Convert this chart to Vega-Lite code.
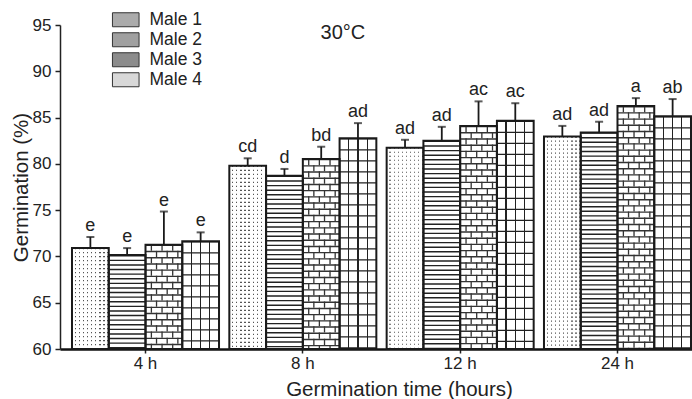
{
  "$schema": "https://vega.github.io/schema/vega-lite/v6.json",
  "width": 632,
  "height": 324,
  "autosize": {"type": "none"},
  "padding": {"left": 60, "top": 25, "right": 0, "bottom": 50},
  "config": {"font": "Liberation Sans", "view": {"stroke": null}},
  "data": {"values": [
    {"time": "4 h", "male": "Male 1", "mean": 70.9, "upper": 72.1, "letters": "e"},
    {"time": "4 h", "male": "Male 2", "mean": 70.15, "upper": 70.9, "letters": "e"},
    {"time": "4 h", "male": "Male 3", "mean": 71.27, "upper": 74.85, "letters": "e"},
    {"time": "4 h", "male": "Male 4", "mean": 71.65, "upper": 72.6, "letters": "e"},
    {"time": "8 h", "male": "Male 1", "mean": 79.8, "upper": 80.6, "letters": "cd"},
    {"time": "8 h", "male": "Male 2", "mean": 78.72, "upper": 79.45, "letters": "d"},
    {"time": "8 h", "male": "Male 3", "mean": 80.53, "upper": 81.85, "letters": "bd"},
    {"time": "8 h", "male": "Male 4", "mean": 82.76, "upper": 84.4, "letters": "ad"},
    {"time": "12 h", "male": "Male 1", "mean": 81.75, "upper": 82.6, "letters": "ad"},
    {"time": "12 h", "male": "Male 2", "mean": 82.5, "upper": 84.0, "letters": "ad"},
    {"time": "12 h", "male": "Male 3", "mean": 84.1, "upper": 86.75, "letters": "ac"},
    {"time": "12 h", "male": "Male 4", "mean": 84.65, "upper": 86.55, "letters": "ac"},
    {"time": "24 h", "male": "Male 1", "mean": 82.95, "upper": 84.1, "letters": "ad"},
    {"time": "24 h", "male": "Male 2", "mean": 83.4, "upper": 84.55, "letters": "ad"},
    {"time": "24 h", "male": "Male 3", "mean": 86.25, "upper": 87.1, "letters": "a"},
    {"time": "24 h", "male": "Male 4", "mean": 85.15, "upper": 87.0, "letters": "ab"}
  ]},
  "encoding": {
    "x": {
      "field": "time", "type": "nominal", "sort": ["4 h", "8 h", "12 h", "24 h"],
      "scale": {"paddingInner": 0.0655, "paddingOuter": 0.0413, "align": 0.923},
      "axis": {
        "title": "Germination time (hours)", "labelAngle": 0, "labelFontSize": 17, "labelColor": "#222",
        "labelPadding": 2, "tickSize": 4, "tickColor": "#222", "tickWidth": 1.5,
        "domainColor": "#111", "domainWidth": 2.5, "titleFontSize": 20.5, "titleFontWeight": "normal",
        "titleColor": "#222", "titlePadding": 8, "titleX": 339
      }
    },
    "y": {
      "field": "mean", "type": "quantitative",
      "scale": {"domain": [60, 95], "nice": false, "zero": false},
      "axis": {
        "title": "Germination (%)", "values": [60, 65, 70, 75, 80, 85, 90, 95], "labelFontSize": 17,
        "labelColor": "#222", "labelPadding": 4, "tickSize": 5, "tickColor": "#222", "tickWidth": 1.5,
        "domainColor": "#222", "domainWidth": 1.5, "grid": false, "titleFontSize": 20.5,
        "titleFontWeight": "normal", "titleColor": "#222", "titlePadding": 1
      }
    }
  },
  "layer": [
    {
      "mark": {"type": "bar"},
      "encoding": {
        "y2": {"datum": 60},
        "xOffset": {"field": "male", "type": "nominal", "scale": {"paddingInner": 0, "paddingOuter": 0}},
        "fill": {
          "field": "male", "type": "nominal",
          "scale": {"domain": ["Male 1", "Male 2", "Male 3", "Male 4"], "range": ["#ababab", "#a0a0a0", "#8c8c8c", "#d8d8d8"]},
          "legend": {
            "title": null, "orient": "none", "legendX": 57, "legendY": -14, "padding": 0,
            "symbolType": "M-1.9,-1H1.9V1H-1.9Z", "symbolSize": 196, "symbolOpacity": 1,
            "symbolStrokeColor": "#333", "symbolStrokeWidth": 1,
            "labelFontSize": 17.5, "labelColor": "#222", "labelOffset": 15, "rowPadding": 1
          }
        }
      }
    },
    {
      "mark": {"type": "bar", "fill": "white"},
      "encoding": {"xOffset": {"field": "male", "type": "nominal"}, "y2": {"datum": 60}}
    },
    {
      "transform": [{"filter": "datum.male === 'Male 1'"}],
      "mark": {"type": "rule", "strokeWidth": 36, "strokeDash": [1.2, 2.8], "color": "#555"},
      "encoding": {"xOffset": {"field": "male", "type": "nominal"}, "y2": {"datum": 60}}
    },
    {
      "transform": [{"filter": "datum.male === 'Male 1'"}],
      "mark": {"type": "bar", "fill": {"gradient": "linear", "x1": 0, "y1": 0, "x2": 1, "y2": 0, "stops": [
        {"offset": 0, "color": "white"}, {"offset": 0.0756, "color": "white"}, {"offset": 0.0756, "color": "rgba(255,255,255,0)"}, {"offset": 0.1111, "color": "rgba(255,255,255,0)"},
        {"offset": 0.1111, "color": "white"}, {"offset": 0.1867, "color": "white"}, {"offset": 0.1867, "color": "rgba(255,255,255,0)"}, {"offset": 0.2222, "color": "rgba(255,255,255,0)"},
        {"offset": 0.2222, "color": "white"}, {"offset": 0.2978, "color": "white"}, {"offset": 0.2978, "color": "rgba(255,255,255,0)"}, {"offset": 0.3333, "color": "rgba(255,255,255,0)"},
        {"offset": 0.3333, "color": "white"}, {"offset": 0.4089, "color": "white"}, {"offset": 0.4089, "color": "rgba(255,255,255,0)"}, {"offset": 0.4444, "color": "rgba(255,255,255,0)"},
        {"offset": 0.4444, "color": "white"}, {"offset": 0.52, "color": "white"}, {"offset": 0.52, "color": "rgba(255,255,255,0)"}, {"offset": 0.5556, "color": "rgba(255,255,255,0)"},
        {"offset": 0.5556, "color": "white"}, {"offset": 0.6311, "color": "white"}, {"offset": 0.6311, "color": "rgba(255,255,255,0)"}, {"offset": 0.6667, "color": "rgba(255,255,255,0)"},
        {"offset": 0.6667, "color": "white"}, {"offset": 0.7422, "color": "white"}, {"offset": 0.7422, "color": "rgba(255,255,255,0)"}, {"offset": 0.7778, "color": "rgba(255,255,255,0)"},
        {"offset": 0.7778, "color": "white"}, {"offset": 0.8533, "color": "white"}, {"offset": 0.8533, "color": "rgba(255,255,255,0)"}, {"offset": 0.8889, "color": "rgba(255,255,255,0)"},
        {"offset": 0.8889, "color": "white"}, {"offset": 0.9644, "color": "white"}, {"offset": 0.9644, "color": "rgba(255,255,255,0)"}, {"offset": 1, "color": "rgba(255,255,255,0)"}
      ]}},
      "encoding": {"xOffset": {"field": "male", "type": "nominal"}, "y2": {"datum": 60}}
    },
    {
      "transform": [{"filter": "datum.male === 'Male 2'"}],
      "mark": {"type": "rule", "strokeWidth": 36, "strokeDash": [1.4, 3.2], "color": "#222"},
      "encoding": {"xOffset": {"field": "male", "type": "nominal"}, "y2": {"datum": 60}}
    },
    {
      "transform": [{"filter": "datum.male === 'Male 3'"}],
      "mark": {"type": "rule", "strokeWidth": 36, "strokeDash": [1.4, 4.8], "color": "#333"},
      "encoding": {"xOffset": {"field": "male", "type": "nominal"}, "y2": {"datum": 60}}
    },
    {
      "transform": [{"filter": "datum.male === 'Male 3'"}],
      "mark": {"type": "rule", "strokeWidth": 1.3, "strokeDash": [6.2, 6.2], "color": "#333"},
      "encoding": {"x": {"field": "time", "type": "nominal", "sort": ["4 h", "8 h", "12 h", "24 h"], "bandPosition": 0.54, "title": "Germination time (hours)"}, "y2": {"datum": 60}}
    },
    {
      "transform": [{"filter": "datum.male === 'Male 3'"}],
      "mark": {"type": "rule", "strokeWidth": 1.3, "strokeDash": [6.2, 6.2], "color": "#333"},
      "encoding": {"x": {"field": "time", "type": "nominal", "sort": ["4 h", "8 h", "12 h", "24 h"], "bandPosition": 0.6125, "title": "Germination time (hours)"}, "y2": {"datum": 60}}
    },
    {
      "transform": [{"filter": "datum.male === 'Male 3'"}],
      "mark": {"type": "rule", "strokeWidth": 1.3, "strokeDash": [6.2, 6.2], "color": "#333"},
      "encoding": {"x": {"field": "time", "type": "nominal", "sort": ["4 h", "8 h", "12 h", "24 h"], "bandPosition": 0.685, "title": "Germination time (hours)"}, "y2": {"datum": 60}}
    },
    {
      "transform": [{"filter": "datum.male === 'Male 3'"}],
      "mark": {"type": "rule", "strokeWidth": 1.3, "strokeDash": [6.2, 6.2], "strokeDashOffset": 6.2, "color": "#333"},
      "encoding": {"x": {"field": "time", "type": "nominal", "sort": ["4 h", "8 h", "12 h", "24 h"], "bandPosition": 0.575, "title": "Germination time (hours)"}, "y2": {"datum": 60}}
    },
    {
      "transform": [{"filter": "datum.male === 'Male 3'"}],
      "mark": {"type": "rule", "strokeWidth": 1.3, "strokeDash": [6.2, 6.2], "strokeDashOffset": 6.2, "color": "#333"},
      "encoding": {"x": {"field": "time", "type": "nominal", "sort": ["4 h", "8 h", "12 h", "24 h"], "bandPosition": 0.6475, "title": "Germination time (hours)"}, "y2": {"datum": 60}}
    },
    {
      "transform": [{"filter": "datum.male === 'Male 3'"}],
      "mark": {"type": "rule", "strokeWidth": 1.3, "strokeDash": [6.2, 6.2], "strokeDashOffset": 6.2, "color": "#333"},
      "encoding": {"x": {"field": "time", "type": "nominal", "sort": ["4 h", "8 h", "12 h", "24 h"], "bandPosition": 0.72, "title": "Germination time (hours)"}, "y2": {"datum": 60}}
    },
    {
      "transform": [{"filter": "datum.male === 'Male 4'"}],
      "mark": {"type": "rule", "strokeWidth": 36, "strokeDash": [1.3, 9.7], "color": "#222"},
      "encoding": {"xOffset": {"field": "male", "type": "nominal"}, "y2": {"datum": 60}}
    },
    {
      "transform": [{"filter": "datum.male === 'Male 4'"}],
      "mark": {"type": "bar", "fill": {"gradient": "linear", "x1": 0, "y1": 0, "x2": 1, "y2": 0, "stops": [
        {"offset": 0, "color": "rgba(0,0,0,0)"}, {"offset": 0.2325, "color": "rgba(0,0,0,0)"}, {"offset": 0.2325, "color": "#222"}, {"offset": 0.2675, "color": "#222"},
        {"offset": 0.2675, "color": "rgba(0,0,0,0)"}, {"offset": 0.4825, "color": "rgba(0,0,0,0)"}, {"offset": 0.4825, "color": "#222"}, {"offset": 0.5175, "color": "#222"},
        {"offset": 0.5175, "color": "rgba(0,0,0,0)"}, {"offset": 0.7325, "color": "rgba(0,0,0,0)"}, {"offset": 0.7325, "color": "#222"}, {"offset": 0.7675, "color": "#222"},
        {"offset": 0.7675, "color": "rgba(0,0,0,0)"}, {"offset": 1, "color": "rgba(0,0,0,0)"}
      ]}},
      "encoding": {"xOffset": {"field": "male", "type": "nominal"}, "y2": {"datum": 60}}
    },
    {
      "mark": {"type": "bar", "filled": false, "stroke": "#1a1a1a", "strokeWidth": 2},
      "encoding": {"xOffset": {"field": "male", "type": "nominal"}, "y2": {"datum": 60}}
    },
    {
      "mark": {"type": "rule", "strokeWidth": 1.8, "color": "#1a1a1a"},
      "encoding": {"xOffset": {"field": "male", "type": "nominal"}, "y2": {"field": "upper"}}
    },
    {
      "mark": {"type": "tick", "size": 8, "thickness": 2, "color": "#1a1a1a"},
      "encoding": {"xOffset": {"field": "male", "type": "nominal"}, "y": {"field": "upper", "type": "quantitative", "title": "Germination (%)"}}
    },
    {
      "mark": {"type": "text", "dy": -6, "baseline": "alphabetic", "fontSize": 18, "color": "#222"},
      "encoding": {"xOffset": {"field": "male", "type": "nominal"}, "y": {"field": "upper", "type": "quantitative", "title": "Germination (%)"}, "text": {"field": "letters"}}
    },
    {
      "transform": [{"filter": "datum.time === '8 h' && datum.male === 'Male 4'"}],
      "mark": {"type": "text", "fontSize": 20, "color": "#222", "baseline": "alphabetic", "dx": -15},
      "encoding": {
        "xOffset": {"field": "male", "type": "nominal"},
        "y": {"datum": 93.5, "type": "quantitative", "title": "Germination (%)"},
        "text": {"value": "30°C"}
      }
    }
  ]
}
